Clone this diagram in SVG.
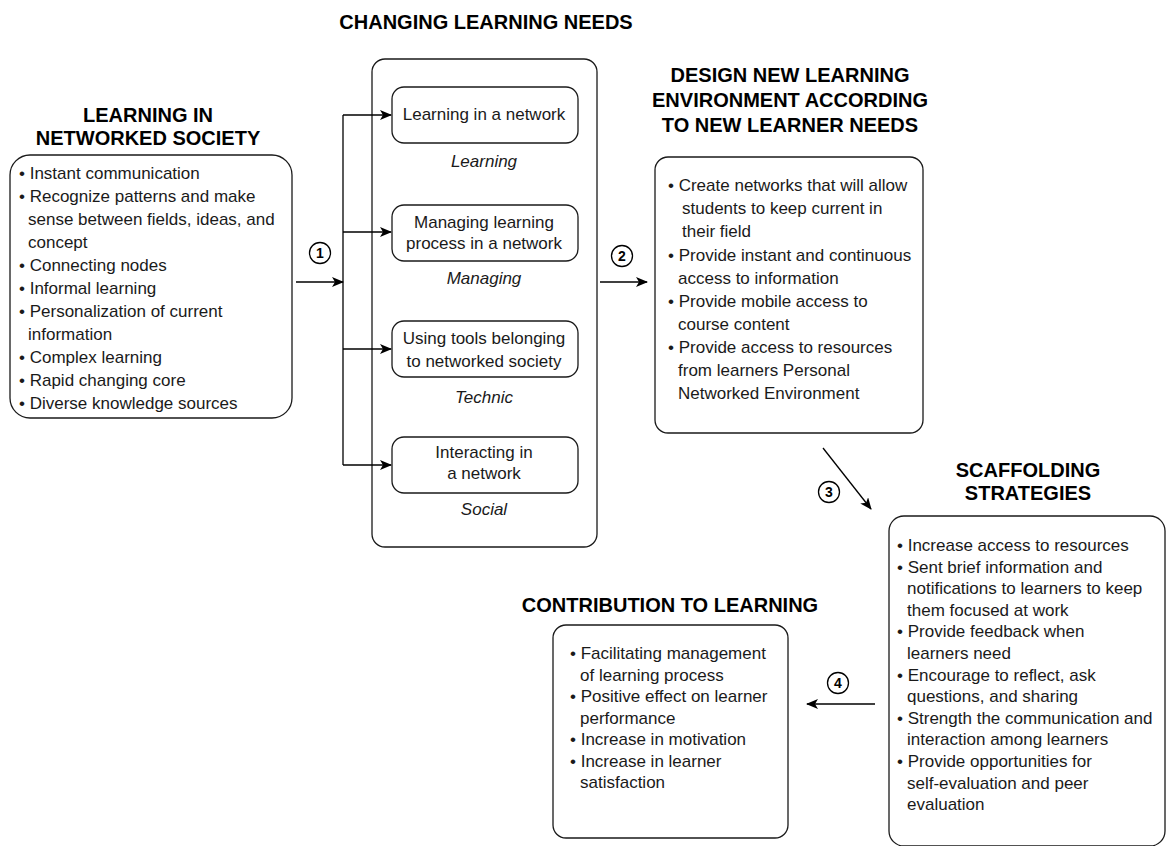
<svg xmlns="http://www.w3.org/2000/svg" width="1166" height="846" viewBox="0 0 1166 846">
<style>
.box{fill:#fff;stroke:#1a1a1a;stroke-width:1.3}
.t{font-family:"Liberation Sans",Arial,sans-serif;font-size:17px;fill:#1a1a1a}
.c{text-anchor:middle}
.i{font-style:italic}
.h{font-family:"Liberation Sans",Arial,sans-serif;font-size:20px;font-weight:bold;fill:#000;text-anchor:middle}
.ln{fill:none;stroke:#000;stroke-width:1.3}
.num{fill:#fff;stroke:#000;stroke-width:1.3}
.nt{font-family:"Liberation Sans",Arial,sans-serif;font-size:14px;font-weight:bold;fill:#000;text-anchor:middle}
</style>
<defs>
<marker id="ah" markerWidth="12" markerHeight="10" refX="11" refY="5" orient="auto" markerUnits="userSpaceOnUse">
<path d="M0,0 L12,5 L0,10 L3,5 Z" fill="#000"/>
</marker>
</defs>
<rect width="1166" height="846" fill="#fff"/>

<g id="learning-networked-society">
<text class="h" x="148" y="122">LEARNING IN</text>
<text class="h" x="148" y="145">NETWORKED SOCIETY</text>
<rect class="box" x="10" y="155" width="282" height="263" rx="20"/>
<text class="t">
<tspan x="19" y="179">• Instant communication</tspan>
<tspan x="19" y="202">• Recognize patterns and make</tspan>
<tspan x="28" y="225">sense between fields, ideas, and</tspan>
<tspan x="28" y="248">concept</tspan>
<tspan x="19" y="271">• Connecting nodes</tspan>
<tspan x="19" y="294">• Informal learning</tspan>
<tspan x="19" y="317">• Personalization of current</tspan>
<tspan x="28" y="340">information</tspan>
<tspan x="19" y="363">• Complex learning</tspan>
<tspan x="19" y="386">• Rapid changing core</tspan>
<tspan x="19" y="409">• Diverse knowledge sources</tspan>
</text>
</g>

<g id="changing-learning-needs">
<text class="h" x="486" y="29">CHANGING LEARNING NEEDS</text>
<rect class="box" x="372" y="59" width="225" height="488" rx="13"/>
</g>

<g id="need-learning">
<rect class="box" x="392" y="87" width="186" height="56" rx="12"/>
<text class="t c" x="484" y="120">Learning in a network</text>
<text class="t c i" x="484" y="167">Learning</text>
</g>
<g id="need-managing">
<rect class="box" x="392" y="205" width="186" height="56" rx="12"/>
<text class="t c" x="484" y="228">Managing learning</text>
<text class="t c" x="484" y="249">process in a network</text>
<text class="t c i" x="484" y="284">Managing</text>
</g>
<g id="need-technic">
<rect class="box" x="392" y="321" width="186" height="56" rx="12"/>
<text class="t c" x="484" y="344">Using tools belonging</text>
<text class="t c" x="484" y="367">to networked society</text>
<text class="t c i" x="484" y="403">Technic</text>
</g>
<g id="need-social">
<rect class="box" x="392" y="437" width="186" height="56" rx="12"/>
<text class="t c" x="484" y="458">Interacting in</text>
<text class="t c" x="484" y="479">a network</text>
<text class="t c i" x="484" y="515">Social</text>
</g>

<g id="design-environment">
<text class="h" x="790" y="82">DESIGN NEW LEARNING</text>
<text class="h" x="790" y="107">ENVIRONMENT ACCORDING</text>
<text class="h" x="790" y="132">TO NEW LEARNER NEEDS</text>
<rect class="box" x="655" y="157" width="268" height="276" rx="13"/>
<text class="t">
<tspan x="668" y="191">• Create networks that will allow</tspan>
<tspan x="682" y="214">students to keep current in</tspan>
<tspan x="682" y="237">their field</tspan>
<tspan x="668" y="261">• Provide instant and continuous</tspan>
<tspan x="678" y="284">access to information</tspan>
<tspan x="668" y="307">• Provide mobile access to</tspan>
<tspan x="678" y="330">course content</tspan>
<tspan x="668" y="353">• Provide access to resources</tspan>
<tspan x="678" y="376">from learners Personal</tspan>
<tspan x="678" y="399">Networked Environment</tspan>
</text>
</g>

<g id="scaffolding-strategies">
<text class="h" x="1028" y="477">SCAFFOLDING</text>
<text class="h" x="1028" y="500">STRATEGIES</text>
<rect class="box" x="889" y="516" width="276" height="330" rx="15"/>
<text class="t">
<tspan x="897" y="551">• Increase access to resources</tspan>
<tspan x="897" y="572.6">• Sent brief information and</tspan>
<tspan x="907" y="594.2">notifications to learners to keep</tspan>
<tspan x="907" y="615.8">them focused at work</tspan>
<tspan x="897" y="637.4">• Provide feedback when</tspan>
<tspan x="907" y="659">learners need</tspan>
<tspan x="897" y="680.6">• Encourage to reflect, ask</tspan>
<tspan x="907" y="702.2">questions, and sharing</tspan>
<tspan x="897" y="723.8">• Strength the communication and</tspan>
<tspan x="907" y="745.4">interaction among learners</tspan>
<tspan x="897" y="767">• Provide opportunities for</tspan>
<tspan x="907" y="788.6">self-evaluation and peer</tspan>
<tspan x="907" y="810.2">evaluation</tspan>
</text>
</g>

<g id="contribution-to-learning">
<text class="h" x="670" y="612">CONTRIBUTION TO LEARNING</text>
<rect class="box" x="553" y="625" width="235" height="213" rx="13"/>
<text class="t">
<tspan x="570" y="659">• Facilitating management</tspan>
<tspan x="580" y="680.5">of learning process</tspan>
<tspan x="570" y="702">• Positive effect on learner</tspan>
<tspan x="580" y="723.5">performance</tspan>
<tspan x="570" y="745">• Increase in motivation</tspan>
<tspan x="570" y="766.5">• Increase in learner</tspan>
<tspan x="580" y="788">satisfaction</tspan>
</text>
</g>

<g id="connectors">
<line class="ln" x1="296" y1="282" x2="343" y2="282" marker-end="url(#ah)"/>
<line class="ln" x1="343" y1="115" x2="343" y2="465"/>
<line class="ln" x1="343" y1="115" x2="391" y2="115" marker-end="url(#ah)"/>
<line class="ln" x1="343" y1="232" x2="391" y2="232" marker-end="url(#ah)"/>
<line class="ln" x1="343" y1="349" x2="391" y2="349" marker-end="url(#ah)"/>
<line class="ln" x1="343" y1="465" x2="391" y2="465" marker-end="url(#ah)"/>
<line class="ln" x1="600" y1="282" x2="647" y2="282" marker-end="url(#ah)"/>
<line class="ln" x1="823" y1="448" x2="871" y2="509" marker-end="url(#ah)"/>
<line class="ln" x1="875" y1="704" x2="807" y2="704" marker-end="url(#ah)"/>
<circle class="num" cx="320" cy="253" r="10.5"/>
<text class="nt" x="320" y="258">1</text>
<circle class="num" cx="622" cy="256" r="10.5"/>
<text class="nt" x="622" y="261">2</text>
<circle class="num" cx="829" cy="492" r="10.5"/>
<text class="nt" x="829" y="497">3</text>
<circle class="num" cx="838" cy="683" r="10.5"/>
<text class="nt" x="838" y="688">4</text>
</g>
</svg>
